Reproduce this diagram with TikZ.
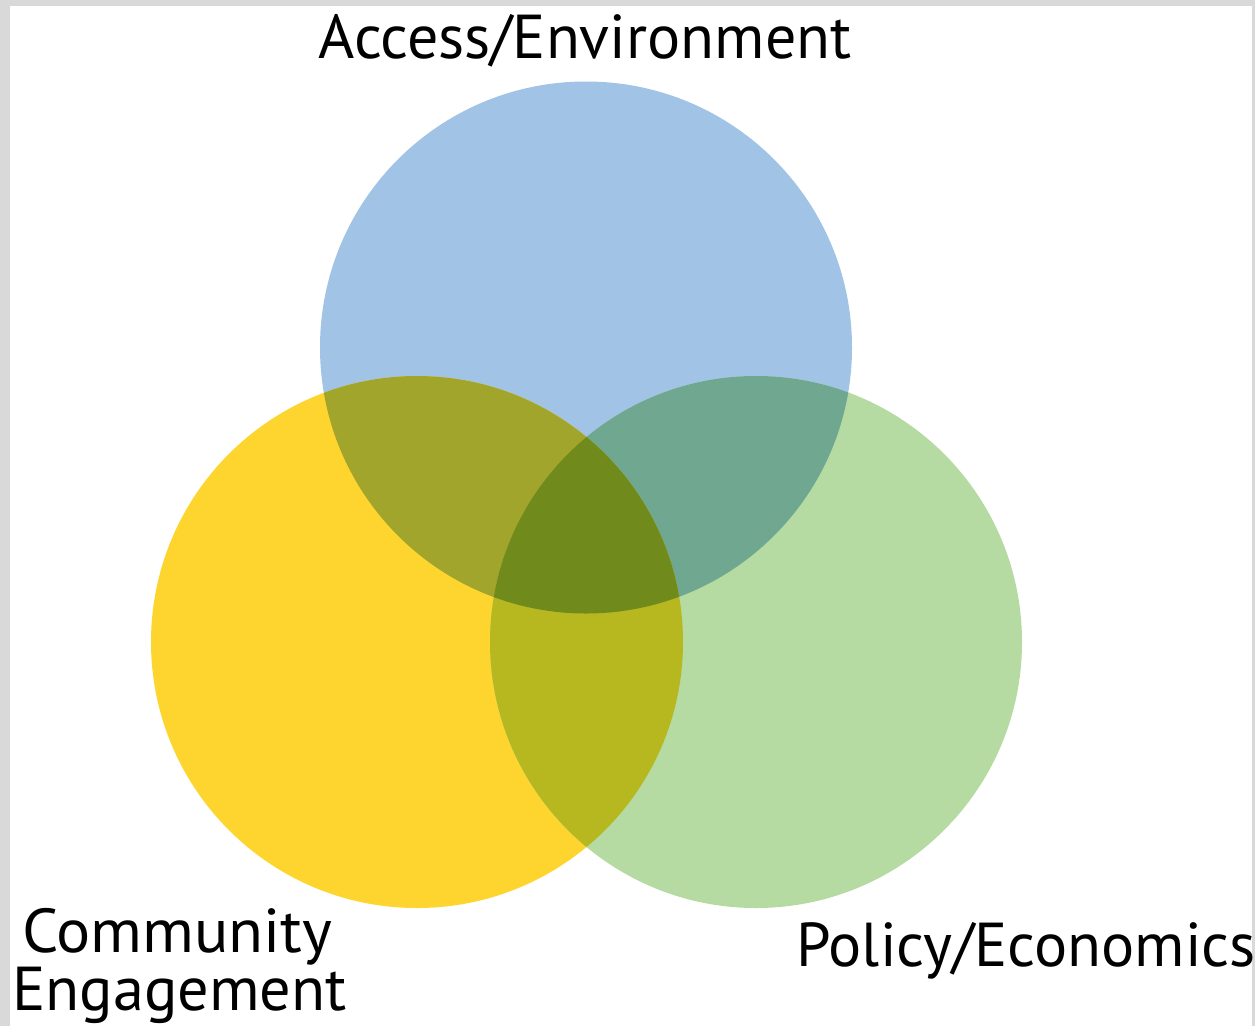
\documentclass[tikz,border=0pt]{standalone}
\usepackage{fontspec}
\setmainfont{PT Sans}
\definecolor{frame}{HTML}{D9D9D9}
\definecolor{cblue}{HTML}{A0C3E6}
\definecolor{cyellow}{HTML}{FED52E}
\definecolor{cgreen}{HTML}{B5DAA2}
\definecolor{cby}{HTML}{A1A52B}
\definecolor{cbg}{HTML}{6FA791}
\definecolor{cyg}{HTML}{B7B81F}
\definecolor{call}{HTML}{708A1B}
\begin{document}
\begin{tikzpicture}[x=1pt,y=-1pt,
  lbl/.style={font=\fontsize{62}{66}\selectfont, inner sep=0pt, text=black}]
\useasboundingbox (0,0) rectangle (1255,1026);
\fill[frame] (0,0) rectangle (1255,1026);
\fill[white] (10,6) rectangle (1252,1026);
\def\B{(586,347.5) circle[radius=266]}
\def\Y{(417,642) circle[radius=266]}
\def\G{(756,642) circle[radius=266]}
\fill[cblue] \B;
\fill[cyellow] \Y;
\fill[cgreen] \G;
\begin{scope}\clip \B; \fill[cby] \Y; \end{scope}
\begin{scope}\clip \B; \fill[cbg] \G; \end{scope}
\begin{scope}\clip \Y; \fill[cyg] \G; \end{scope}
\begin{scope}\clip \B; \clip \Y; \fill[call] \G; \end{scope}
\node[lbl, anchor=base] (access) at (585,58) {Access/Environment};
\node[lbl, anchor=base west] (community) at (22,952) {\scalebox{1.03}[1]{Community}};
\node[lbl, anchor=base west] (engagement) at (12,1010) {\scalebox{1.005}[1]{Engagement}};
\node[lbl, anchor=base west] (policy) at (796,966) {Policy/Economics};
\end{tikzpicture}
\end{document}
